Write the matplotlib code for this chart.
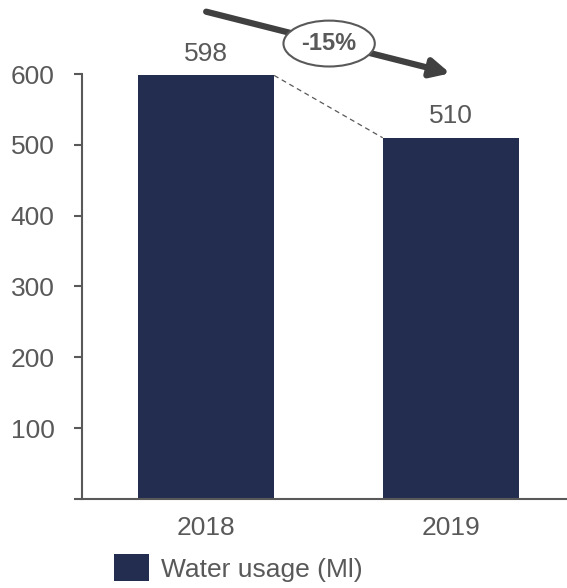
import matplotlib
matplotlib.use('Agg')
import matplotlib.pyplot as plt

years = ['2018', '2019']
usage = [598, 510]
change_label = '-15%'
series_name = 'Water usage (Ml)'

BAR = '#222d50'
GREY = '#595959'
ARROW = '#404040'

plt.rcParams.update({
    'font.family': ['Liberation Sans', 'DejaVu Sans'],
    'font.size': 19,
    'text.color': GREY,
    'axes.edgecolor': GREY,
    'xtick.color': GREY,
    'ytick.color': GREY,
})

fig = plt.figure(figsize=(5.67, 5.88), dpi=100)
ax = fig.add_axes([0.145, 0.1514, 0.855, 0.8486])

x = list(range(len(years)))
width = 0.556
bars = ax.bar(x, usage, width=width, color=BAR, label=series_name, zorder=2)

ax.set_xlim(-0.507, 1.476)
ax.set_ylim(0, 704.5)

for s in ['top', 'right']:
    ax.spines[s].set_visible(False)
ax.spines['left'].set_bounds(0, 600)
ax.spines['left'].set_linewidth(1.5)
ax.spines['bottom'].set_linewidth(1.5)

ax.set_yticks([0, 100, 200, 300, 400, 500, 600])
ax.set_yticklabels(['', '100', '200', '300', '400', '500', '600'])
ax.tick_params(axis='y', length=6, width=1.5, pad=14)
ax.set_xticks(x)
ax.set_xticklabels(years)
ax.tick_params(axis='x', length=0, pad=12)

# value labels on top of bars
for xi, v in zip(x, usage):
    ax.annotate(str(v), (xi, v), xytext=(0, 7), textcoords='offset points',
                ha='center', va='bottom', color=GREY)

# dashed connector between bar tops
ax.plot([x[0] + width / 2, x[1] - width / 2], [usage[0], usage[1]],
        ls=(0, (4, 3)), color=GREY, lw=0.9, zorder=1)

# trend arrow with change badge
ax.annotate('', xy=(0.998, 601), xytext=(0.0, 688),
            arrowprops=dict(arrowstyle='-|>', lw=4.5, color=ARROW,
                            mutation_scale=28, shrinkA=0, shrinkB=0),
            annotation_clip=False)
ax.text(0.503, 643, change_label, ha='center', va='center', fontsize=17,
        fontweight='bold', color=GREY,
        bbox=dict(boxstyle='ellipse,pad=0.2', fc='white', ec=GREY, lw=1.5))

fig.legend(handles=[bars], labels=[series_name], loc='center left',
           bbox_to_anchor=(0.178, 0.034), frameon=False, borderpad=0,
           handlelength=1.33, handleheight=1.15, handletextpad=0.45,
           fontsize=19, labelcolor=GREY)

fig.savefig('out.png', dpi=100)
